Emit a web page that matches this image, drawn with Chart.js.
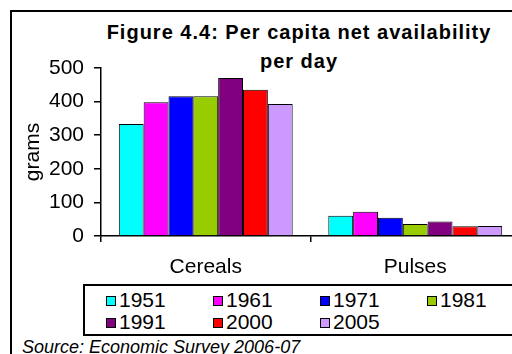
<!DOCTYPE html>
<html lang="en">
<head>
    <meta charset="UTF-8">
    <title>Per capita net availability per day</title>
    <script src="https://cdn.jsdelivr.net/npm/chart.js@4.4.1/dist/chart.umd.min.js"></script>
    <style>
        body {
            margin: 0;
            background-color: #fff;
            font-family: "Liberation Sans", Arial, sans-serif;
        }

        .wrap {
            position: relative;
            width: 512px;
            height: 354px;
            overflow: hidden;
        }

        .frame {
            position: absolute;
            left: 10px;
            top: 10px;
            width: 600px;
            height: 400px;
            border-left: 2px solid #000;
            border-top: 2px solid #000;
        }

        .title {
            position: absolute;
            left: 99px;
            top: 18px;
            width: 400px;
            text-align: center;
            font-weight: bold;
            font-size: 20px;
            line-height: 29px;
            letter-spacing: 1px;
            color: #000;
        }

        #chart {
            position: absolute;
            left: 12px;
            top: 12px;
        }

        .legend {
            position: absolute;
            left: 83px;
            top: 284px;
            width: 422px;
            height: 45px;
            border: 2px solid #000;
            padding: 3px 0 0 21px;
            display: grid;
            grid-template-columns: repeat(4, 107px);
            grid-auto-rows: 22px;
            font-size: 21px;
            line-height: 22px;
        }

        .legend span {
            display: inline-block;
            width: 8px;
            height: 8px;
            border: 1px solid #000;
            margin-right: 3px;
            vertical-align: 1px;
        }

        .source {
            position: absolute;
            left: 22px;
            top: 337px;
            font-size: 18px;
            font-style: italic;
            line-height: 20px;
        }
    </style>
</head>
<body>
    <div class="wrap">
        <div class="frame"></div>
        <div class="title">Figure 4.4: Per capita net availability<br>per day</div>
        <canvas id="chart" width="520" height="270"></canvas>
        <div class="legend" id="legend"></div>
        <div class="source">Source: Economic Survey 2006-07</div>
    </div>

    <script>
        // values (grams per day)
        const categories = ['Cereals', 'Pulses'];
        const years = ['1951', '1961', '1971', '1981', '1991', '2000', '2005'];
        const cereals = [333, 398, 416, 416, 470, 435, 393];
        const pulses = [60, 72, 54, 36, 43, 29, 30];
        const yTicks = [0, 100, 200, 300, 400, 500];
        const colors = ['#00FFFF', '#FF00FF', '#0000FF', '#99CC00', '#800080', '#FF0000', '#CC99FF'];

        Chart.defaults.font.family = '"Liberation Sans", Arial, sans-serif';
        Chart.defaults.color = '#000';

        const datasets = years.map((year, i) => ({
            label: year,
            data: [cereals[i], pulses[i]],
            backgroundColor: colors[i],
            borderColor: '#000',
            borderWidth: 1,
            borderSkipped: 'start',
            barPercentage: 1,
            categoryPercentage: 0.83
        }));

        new Chart(document.getElementById('chart'), {
            type: 'bar',
            data: { labels: categories, datasets: datasets },
            options: {
                responsive: false,
                devicePixelRatio: 1,
                animation: false,
                layout: { padding: { top: 56, right: 12, bottom: 0, left: 0 } },
                plugins: {
                    legend: { display: false },
                    title: { display: false },
                    tooltip: { enabled: false }
                },
                scales: {
                    x: {
                        grid: { display: true, drawOnChartArea: false, drawTicks: true, tickLength: 6, color: '#000', lineWidth: 1.5 },
                        border: { display: true, color: '#000', width: 1.5 },
                        ticks: { font: { size: 21 }, padding: 13, color: '#000' },
                        afterFit: scale => { scale.height = 46; }
                    },
                    y: {
                        min: yTicks[0],
                        max: yTicks[yTicks.length - 1],
                        afterBuildTicks: scale => { scale.ticks = yTicks.map(v => ({ value: v })); },
                        grid: { display: true, drawOnChartArea: false, drawTicks: true, tickLength: 7, color: '#000', lineWidth: 1.5 },
                        border: { display: true, color: '#000', width: 1.5 },
                        ticks: { font: { size: 21 }, padding: 10, color: '#000' },
                        title: { display: true, text: 'grams', font: { size: 21 }, padding: { top: 9, bottom: 0 }, color: '#000' },
                        afterFit: scale => { scale.width = 89; }
                    }
                }
            }
        });

        // legend box, four items per row
        const legend = document.getElementById('legend');
        years.forEach((year, i) => {
            const item = document.createElement('div');
            item.innerHTML = '<span style="background:' + colors[i] + '"></span>' + year;
            legend.appendChild(item);
        });
    </script>
</body>
</html>
